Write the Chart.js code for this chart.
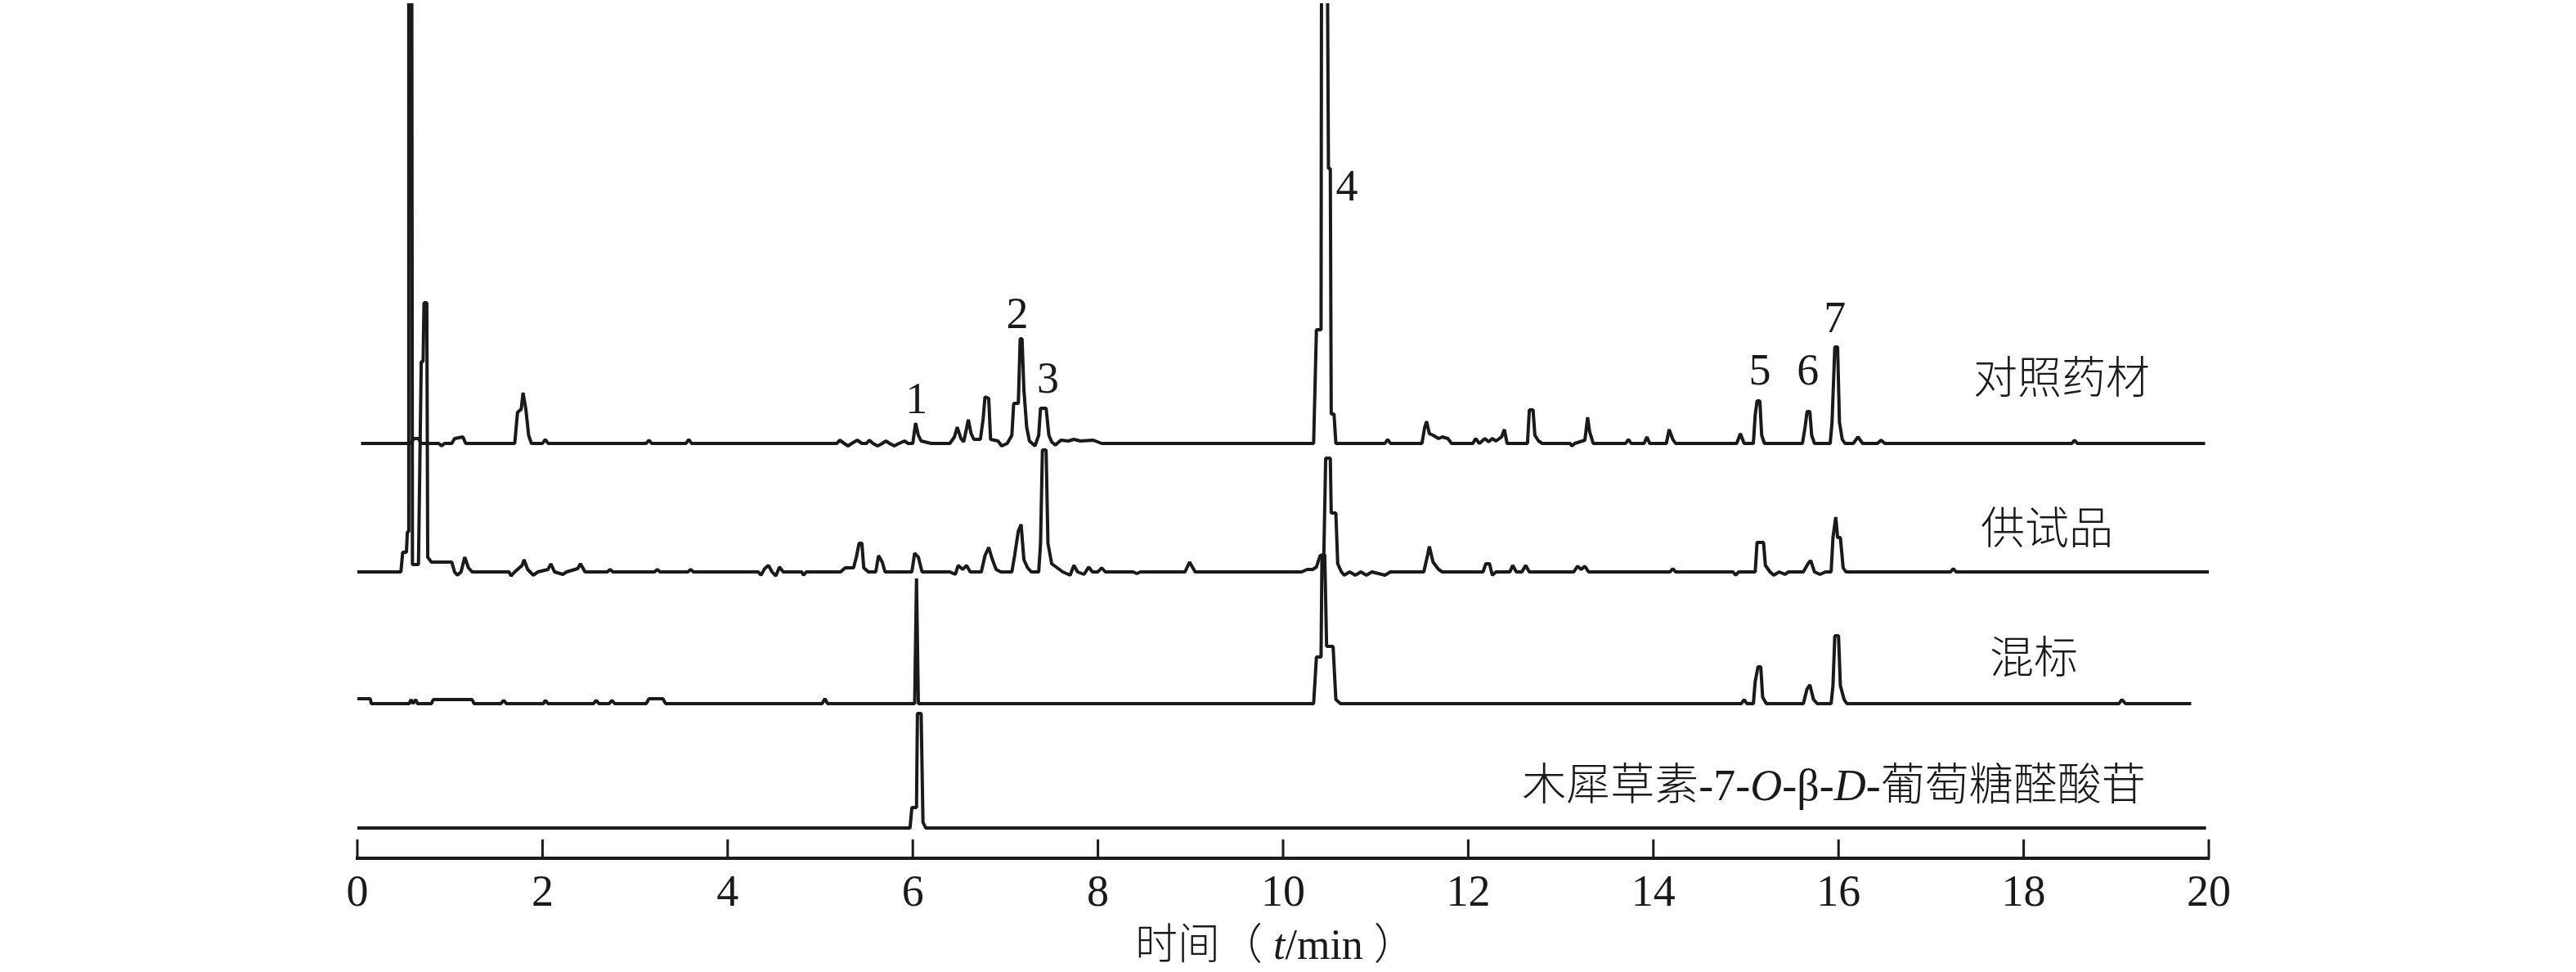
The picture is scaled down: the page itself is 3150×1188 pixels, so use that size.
<!DOCTYPE html>
<html lang="zh-CN">
<head>
<meta charset="UTF-8">
<title>色谱图</title>
<script src="https://cdn.jsdelivr.net/npm/chart.js"></script>
<style>
    html, body { margin: 0; padding: 0; background: #fff; }
    #wrap { width: 3150px; height: 1188px; }
</style>
</head>
<body>
<div id="wrap"><canvas id="grafico" width="3150" height="1188"></canvas></div>

<script>
    // tempo (min) e resposta relativa acima da linha de base
    var traceNames = ['对照药材', '供试品', '混标', '木犀草素-7-O-β-D-葡萄糖醛酸苷'];

    var refHerb = [
        [0.04,0],[0.58,0],[0.61,6],[0.66,6],[0.69,0],[0.88,0],[0.91,-3],[0.94,0],[1.02,0],[1.05,6],[1.14,8],[1.17,0],
        [1.70,0],[1.73,38],[1.77,42],[1.79,62],[1.82,42],[1.85,10],[1.88,0],[2.00,0],[2.03,5],[2.06,0],
        [3.12,0],[3.15,4],[3.18,0],[3.55,0],[3.58,5],[3.61,0],[5.18,0],[5.21,4],[5.26,0],[5.30,-3],[5.34,0],
        [5.40,4],[5.45,0],[5.50,0],[5.53,4],[5.57,0],[5.62,-3],[5.67,0],[5.71,3],[5.75,0],[5.80,-3],[5.85,0],
        [5.91,3],[5.95,0],[6.00,0],[6.03,25],[6.06,10],[6.09,3],[6.20,0],[6.40,0],[6.45,8],[6.48,20],[6.52,6],
        [6.55,2],[6.58,18],[6.60,29],[6.63,12],[6.66,5],[6.73,5],[6.76,30],[6.78,57],[6.82,55],[6.84,5],[6.92,3],
        [6.96,-3],[7.02,0],[7.07,10],[7.09,49],[7.14,49],[7.16,128],[7.18,128],[7.20,66],[7.23,20],[7.26,3],
        [7.32,-3],[7.36,10],[7.38,43],[7.44,43],[7.47,10],[7.50,2],[7.54,-2],[7.60,4],[7.68,3],[7.74,5],[7.81,3],
        [7.95,4],[8.04,0],[10.33,0],[10.36,139],[10.41,139],[10.42,1000],[10.46,1000],[10.49,336],[10.51,336],
        [10.52,36],[10.55,36],[10.57,0],[11.10,0],[11.13,5],[11.16,0],[11.50,0],[11.53,20],[11.55,27],[11.58,12],
        [11.62,10],[11.68,6],[11.72,8],[11.78,6],[11.82,0],[12.05,0],[12.08,6],[12.12,0],[12.18,6],[12.22,2],
        [12.26,6],[12.30,3],[12.36,8],[12.39,17],[12.42,0],[12.64,0],[12.66,41],[12.70,41],[12.72,10],[12.76,3],
        [12.80,0],[13.10,0],[13.12,-3],[13.15,0],[13.26,4],[13.29,32],[13.31,15],[13.35,0],[13.70,0],[13.73,5],
        [13.76,0],[13.90,0],[13.93,8],[13.96,0],[14.14,0],[14.17,17],[14.21,5],[14.24,0],[14.90,0],[14.94,12],
        [14.98,0],[15.08,0],[15.10,35],[15.12,52],[15.15,52],[15.17,10],[15.20,0],[15.61,0],[15.64,21],[15.66,39],
        [15.69,39],[15.71,10],[15.74,0],[15.91,0],[15.93,26],[15.96,118],[15.99,118],[16.01,26],[16.04,5],
        [16.07,0],[16.16,0],[16.21,8],[16.26,0],[16.42,0],[16.46,4],[16.50,0],[18.52,0],[18.55,4],[18.58,0],[19.96,0]
    ];

    var sample = [
        [0.00,0],[0.47,0],[0.49,24],[0.53,24],[0.54,49],[0.55,49],[0.555,1000],[0.585,1000],[0.595,9],[0.66,9],
        [0.69,257],[0.71,257],[0.72,329],[0.75,329],[0.76,18],[0.80,12],[1.02,12],[1.05,0],[1.08,-4],[1.12,0],
        [1.16,18],[1.20,5],[1.24,0],[1.64,0],[1.66,-5],[1.70,0],[1.78,8],[1.80,15],[1.84,3],[1.90,-4],[1.95,0],
        [2.06,3],[2.09,10],[2.13,0],[2.22,-3],[2.26,0],[2.38,4],[2.41,10],[2.46,0],[2.70,0],[2.73,3],[2.76,0],
        [3.21,0],[3.24,3],[3.27,0],[3.57,0],[3.60,3],[3.63,0],[4.33,0],[4.36,-4],[4.40,4],[4.44,8],[4.48,0],
        [4.52,-5],[4.56,6],[4.60,0],[4.80,0],[4.82,-4],[4.85,0],[5.22,0],[5.27,5],[5.36,5],[5.39,18],[5.42,35],
        [5.45,35],[5.47,5],[5.52,0],[5.60,0],[5.63,20],[5.67,12],[5.70,0],[5.99,0],[6.02,23],[6.06,18],[6.10,0],
        [6.40,0],[6.46,-3],[6.49,8],[6.54,3],[6.58,8],[6.62,0],[6.74,0],[6.78,20],[6.82,30],[6.86,15],[6.90,3],
        [6.95,0],[7.07,0],[7.10,20],[7.14,50],[7.17,58],[7.20,15],[7.24,5],[7.28,0],[7.36,0],[7.38,35],[7.40,149],
        [7.44,149],[7.46,35],[7.50,10],[7.56,5],[7.62,0],[7.70,-4],[7.74,8],[7.78,0],[7.85,-3],[7.90,6],[7.94,0],
        [8.00,0],[8.04,5],[8.08,0],[8.38,0],[8.42,-2],[8.46,0],[8.94,0],[8.99,12],[9.05,0],[10.20,0],[10.26,3],
        [10.32,3],[10.36,6],[10.40,20],[10.44,20],[10.46,139],[10.51,139],[10.52,72],[10.57,72],[10.59,10],
        [10.63,0],[10.66,-4],[10.72,0],[10.78,-4],[10.84,0],[10.90,-4],[10.96,0],[11.10,-4],[11.16,0],[11.52,0],
        [11.56,20],[11.58,31],[11.62,12],[11.68,3],[11.72,0],[12.16,0],[12.19,10],[12.23,10],[12.26,-4],[12.30,0],
        [12.45,0],[12.48,8],[12.52,0],[12.58,0],[12.62,8],[12.66,0],[13.14,0],[13.18,7],[13.22,3],[13.26,7],
        [13.30,0],[14.18,0],[14.21,4],[14.24,0],[14.86,0],[14.89,-4],[14.92,0],[15.10,0],[15.12,36],[15.19,36],
        [15.21,8],[15.26,0],[15.30,-4],[15.36,0],[15.42,-3],[15.46,0],[15.62,0],[15.67,10],[15.70,14],[15.74,0],
        [15.80,-3],[15.86,0],[15.92,0],[15.94,42],[15.97,67],[15.99,42],[16.02,42],[16.05,5],[16.08,0],[17.21,0],
        [17.24,4],[17.27,0],[20.00,0]
    ];

    var mixStd = [
        [0.00,6],[0.14,6],[0.15,0],[0.56,0],[0.58,5],[0.60,0],[0.63,5],[0.65,0],[0.80,0],[0.82,5],[1.24,5],[1.26,0],
        [1.55,0],[1.58,4],[1.61,0],[2.01,0],[2.03,4],[2.06,0],[2.55,0],[2.58,4],[2.61,0],[2.72,0],[2.75,4],[2.78,0],
        [3.12,0],[3.15,6],[3.30,6],[3.33,0],[5.02,0],[5.05,6],[5.08,0],[6.02,0],[6.04,153],[6.06,0],[10.33,0],
        [10.36,57],[10.41,57],[10.42,182],[10.45,182],[10.47,70],[10.54,70],[10.57,5],[10.62,0],[14.95,0],
        [14.98,5],[15.01,0],[15.08,0],[15.10,27],[15.13,45],[15.16,45],[15.18,8],[15.22,0],[15.62,0],[15.66,18],
        [15.69,23],[15.73,5],[15.77,0],[15.92,0],[15.94,22],[15.96,83],[16.00,83],[16.02,22],[16.06,5],[16.09,0],
        [19.03,0],[19.06,5],[19.10,0],[19.81,0]
    ];

    var luteolinGlc = [
        [0.00,0],[5.97,0],[5.99,25],[6.04,25],[6.05,140],[6.09,140],[6.11,7],[6.14,0],[19.97,0]
    ];

    var xTicksMin = 0, xTicksMax = 20, xTickStep = 2;

    var peakNames = ['1', '2', '3', '4', '5', '6', '7'];

    // deslocamento vertical de cada cromatograma (empilhados)
    var offsets = [507, 350, 189, 37];
    var series = [refHerb, sample, mixStd, luteolinGlc];

    // posicao dos rotulos (tempo, altura da linha de base do texto)
    var peakLabelPos = [[6.04,544],[7.13,648],[7.46,569],[10.69,804],[15.15,579],[15.67,579],[15.96,643]];
    var nameLabels = [
        { text: '对照药材', t: 18.41, y: 568 },
        { text: '供试品', t: 18.25, y: 384 },
        { text: '混标', t: 18.11, y: 226 },
        { text: '木犀草素-7-_O_-β-_D_-葡萄糖醛酸苷', t: 15.95, y: 71 }
    ];

    var INK = '#1a1a1a';
    var CJK = '"Noto Sans CJK SC"';
    var SERIF = '"Liberation Serif"';

    function runs(text) {
        var out = [];
        text.split('_').forEach(function (part, i) {
            var italic = i % 2 === 1;
            var cur = '', curCjk = null;
            for (var ch of part) {
                var cjk = /[\u3000-\u9fff\uff00-\uffef]/.test(ch);
                if (curCjk !== null && cjk !== curCjk) {
                    out.push({ s: cur, cjk: curCjk, italic: italic });
                    cur = '';
                }
                cur += ch;
                curCjk = cjk;
            }
            if (cur) out.push({ s: cur, cjk: curCjk, italic: italic });
        });
        return out;
    }

    function fontFor(r, size) {
        if (r.cjk) return '300 ' + size + 'px ' + CJK;
        return (r.italic ? 'italic ' : '') + size + 'px ' + SERIF;
    }

    function drawRich(ctx, text, cx, baseline, size) {
        var rs = runs(text);
        var w = 0;
        rs.forEach(function (r) {
            ctx.font = fontFor(r, size);
            r.w = ctx.measureText(r.s).width;
            w += r.w;
        });
        var xx = cx - w / 2;
        ctx.textAlign = 'left';
        ctx.textBaseline = 'alphabetic';
        rs.forEach(function (r) {
            ctx.font = fontFor(r, size);
            ctx.fillText(r.s, xx, baseline);
            xx += r.w;
        });
    }

    var anotacoes = {
        id: 'anotacoes',
        afterDraw: function (chart) {
            var ctx = chart.ctx;
            var area = chart.chartArea;
            var x = chart.scales.x, y = chart.scales.y;
            ctx.save();

            // marcas de escala voltadas para dentro
            ctx.strokeStyle = INK;
            ctx.lineWidth = 3;
            x.ticks.forEach(function (tk) {
                var px = x.getPixelForValue(tk.value);
                ctx.beginPath();
                ctx.moveTo(px, area.bottom);
                ctx.lineTo(px, area.bottom - 23);
                ctx.stroke();
            });

            ctx.fillStyle = INK;
            ctx.textAlign = 'center';
            ctx.textBaseline = 'alphabetic';
            ctx.font = '54px ' + SERIF;
            peakNames.forEach(function (n, i) {
                ctx.fillText(n, x.getPixelForValue(peakLabelPos[i][0]), y.getPixelForValue(peakLabelPos[i][1]));
            });

            nameLabels.forEach(function (lb) {
                drawRich(ctx, lb.text, x.getPixelForValue(lb.t), y.getPixelForValue(lb.y), 54);
            });

            // titulo do eixo x
            drawRich(ctx, '时间（ _t_/min ）', x.getPixelForValue(9.92), area.bottom + 123, 52);
            ctx.restore();
        }
    };

    var datasets = series.map(function (pts, i) {
        return {
            label: traceNames[i],
            data: pts.map(function (p) { return { x: p[0], y: offsets[i] + p[1] }; }),
            borderColor: INK,
            borderWidth: 4,
            borderJoinStyle: 'bevel',
            pointRadius: 0,
            tension: 0,
            fill: false
        };
    });

    var config = {
        type: 'line',
        data: { datasets: datasets },
        options: {
            responsive: false,
            animation: false,
            devicePixelRatio: 1,
            layout: { padding: { left: 437, right: 449, top: 4, bottom: 0 } },
            plugins: {
                legend: { display: false },
                tooltip: { enabled: false }
            },
            scales: {
                x: {
                    type: 'linear',
                    min: xTicksMin,
                    max: xTicksMax,
                    afterFit: function (s) { s.height = 139; },
                    border: { display: true, width: 4, color: INK },
                    grid: { drawOnChartArea: false, drawTicks: false },
                    ticks: {
                        stepSize: xTickStep,
                        autoSkip: false,
                        maxRotation: 0,
                        padding: 11,
                        color: INK,
                        font: { family: 'Liberation Serif', size: 54 }
                    }
                },
                y: {
                    display: false,
                    min: 0,
                    max: 1045
                }
            }
        },
        plugins: [anotacoes]
    };

    var myChart = new Chart(document.getElementById('grafico'), config);
</script>
</body>
</html>
